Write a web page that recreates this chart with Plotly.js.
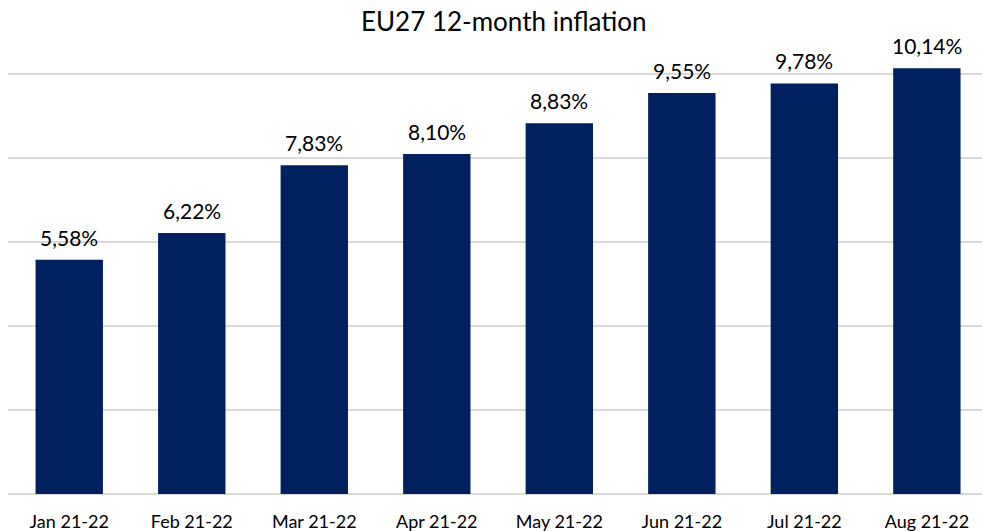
<!DOCTYPE html>
<html><head><meta charset="utf-8">
<script src="https://cdn.plot.ly/plotly-3.0.1.min.js"></script>
<style>html,body{margin:0;padding:0;overflow:hidden;background:#fff}#chart{width:982px;height:531px}</style>
</head><body><div id="chart"></div>
<script>
const categories = ["Jan 21-22","Feb 21-22","Mar 21-22","Apr 21-22","May 21-22","Jun 21-22","Jul 21-22","Aug 21-22"];
const inflation = [5.58, 6.22, 7.83, 8.10, 8.83, 9.55, 9.78, 10.14];
const labels = inflation.map(v => v.toFixed(2).replace('.', ',') + '%');

const font = "Lato, 'Open Sans', sans-serif";
const annotations = categories.map((c, i) => ({
  x: c, y: inflation[i], text: labels[i], showarrow: false,
  xanchor: 'center', yanchor: 'bottom', yshift: 8,
  font: {family: font, size: 21, color: '#000'}
}));
Plotly.newPlot('chart', [{
  type: 'bar', x: categories, y: inflation,
  marker: {color: '#002060'}, hoverinfo: 'skip'
}], {
  width: 982, height: 531,
  margin: {l: 8, r: 0, t: 49, b: 37},
  paper_bgcolor: '#fff', plot_bgcolor: '#fff',
  bargap: 0.45,
  annotations: annotations,
  title: {text: 'EU27 12-month inflation', font: {family: font, size: 26, color: '#000'}, x: 0.513, xanchor: 'center', y: 0.958, yanchor: 'middle'},
  xaxis: {type: 'category', range: [-0.5, 7.45], showgrid: false, zeroline: false,
    showline: false, ticks: 'outside', ticklen: 11, tickcolor: 'rgba(0,0,0,0)',
    tickfont: {family: font, size: 18, color: '#000'}},
  yaxis: {range: [0, 10.6], dtick: 2, showticklabels: false, gridcolor: '#d9d9d9', gridwidth: 1.5,
    zeroline: true, zerolinecolor: '#d9d9d9', zerolinewidth: 1.5, showline: false, fixedrange: true},
  showlegend: false
}, {displayModeBar: false, staticPlot: true});
</script></body></html>
